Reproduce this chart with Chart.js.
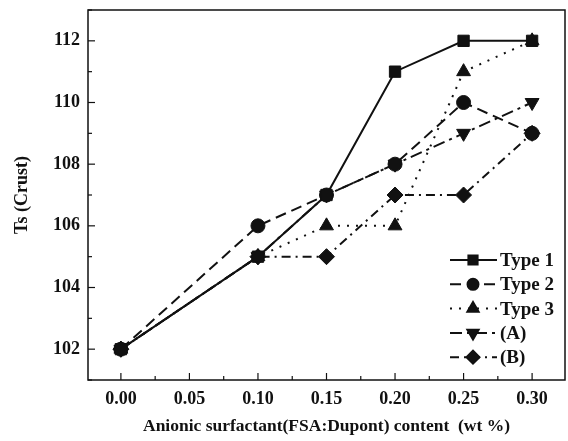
<!DOCTYPE html>
<html>
<head>
<meta charset="utf-8">
<script src="https://cdn.jsdelivr.net/npm/chart.js@4.4.0/dist/chart.umd.min.js"></script>
<style>
  html, body { margin: 0; padding: 0; background: #fff; }
  #wrap { width: 568px; height: 441px; }
</style>
</head>
<body>
<div id="wrap"><canvas id="tsChart" width="568" height="441"></canvas></div>
<script>
'use strict';

// ---- data ----
const contents = [0.00, 0.10, 0.15, 0.20, 0.25, 0.30];
const type1 = [102, 105, 107, 111, 112, 112];
const type2 = [102, 106, 107, 108, 110, 109];
const type3 = [102, 105, 106, 106, 111, 112];
const typeA = [102, 105, 107, 108, 109, 110];
const typeB = [102, 105, 105, 107, 107, 109];
const xTicks = [0.00, 0.05, 0.10, 0.15, 0.20, 0.25, 0.30];
const yTicks = [102, 104, 106, 108, 110, 112];

const FONT = '"Liberation Serif", "Times New Roman", serif';
const INK = '#111';

const series = [
  { label: 'Type 1', data: type1, style: 'rect',     radius: 8, rot: 0,   dash: [] },
  { label: 'Type 2', data: type2, style: 'circle',   radius: 7, rot: 0,   dash: [11, 6] },
  { label: 'Type 3', data: type3, style: 'triangle', radius: 8, rot: 0,   dash: [2, 7] },
  { label: '(A)',    data: typeA, style: 'triangle', radius: 8, rot: 180, dash: [12, 5, 3, 5] },
  { label: '(B)',    data: typeB, style: 'rectRot',  radius: 8, rot: 0,   dash: [9, 5, 2, 5] }
];

// inward ticks, frame and legend drawn by hand
const framePlugin = {
  id: 'frame',
  afterDraw(chart) {
    const { ctx, chartArea: a, scales } = chart;
    const xs = scales.x, ys = scales.y;
    ctx.save();
    ctx.strokeStyle = INK;
    ctx.lineWidth = 1.5;
    ctx.setLineDash([]);
    ctx.strokeRect(a.left, a.top, a.right - a.left, a.bottom - a.top);

    ctx.lineWidth = 1.2;
    for (let v = 101; v <= 113; v++) {
      const y = ys.getPixelForValue(v);
      const len = v % 2 === 0 ? 7 : 4;
      ctx.beginPath(); ctx.moveTo(a.left, y); ctx.lineTo(a.left + len, y); ctx.stroke();
    }
    xTicks.forEach(v => {
      const x = xs.getPixelForValue(v);
      ctx.beginPath(); ctx.moveTo(x, a.bottom); ctx.lineTo(x, a.bottom - 7); ctx.stroke();
    });
    for (let i = 0; i < xTicks.length - 1; i++) {
      const x = xs.getPixelForValue((xTicks[i] + xTicks[i + 1]) / 2);
      ctx.beginPath(); ctx.moveTo(x, a.bottom); ctx.lineTo(x, a.bottom - 4); ctx.stroke();
    }

    // legend
    ctx.font = 'bold 19px ' + FONT;
    ctx.textBaseline = 'middle';
    ctx.fillStyle = INK;
    chart.data.datasets.forEach((ds, i) => {
      const y = 260 + i * 24.3;
      ctx.lineWidth = 2;
      ctx.setLineDash(series[i].dash);
      ctx.beginPath(); ctx.moveTo(450, y); ctx.lineTo(497, y); ctx.stroke();
      ctx.setLineDash([]);
      Chart.helpers.drawPoint(ctx, {
        pointStyle: series[i].style, radius: series[i].radius - 1.5, rotation: series[i].rot, borderWidth: 1
      }, 473, y);
      ctx.fill();
      ctx.fillText(ds.label, 500, y + 1);
    });
    ctx.restore();
  }
};

new Chart(document.getElementById('tsChart'), {
  type: 'scatter',
  data: {
    datasets: series.map(s => ({
      label: s.label,
      data: contents.map((c, i) => ({ x: c, y: s.data[i] })),
      showLine: true,
      borderColor: INK,
      backgroundColor: INK,
      borderWidth: 2,
      borderDash: s.dash,
      pointStyle: s.style,
      pointRadius: s.radius,
      pointRotation: s.rot,
      pointBackgroundColor: INK,
      pointBorderColor: INK,
      pointBorderWidth: 1
    }))
  },
  options: {
    responsive: false,
    animation: false,
    layout: { autoPadding: false, padding: { top: 10, right: 3, left: 0, bottom: 0 } },
    plugins: { legend: { display: false }, tooltip: { enabled: false } },
    scales: {
      x: {
        type: 'linear',
        min: -0.024,
        max: 0.324,
        afterBuildTicks: s => { s.ticks = xTicks.map(v => ({ value: v })); },
        afterFit: s => { s.height = 61; s.paddingLeft = 0; s.paddingRight = 0; },
        grid: { display: false, drawTicks: false },
        border: { display: false },
        ticks: {
          color: INK,
          padding: 9,
          font: { family: FONT, size: 18, weight: 'bold' },
          callback: v => v.toFixed(2)
        },
        title: {
          display: true,
          text: 'Anionic surfactant(FSA:Dupont) content  (wt %)',
          color: INK,
          padding: { top: 4 },
          font: { family: FONT, size: 17.5, weight: 'bold' }
        }
      },
      y: {
        min: 101,
        max: 113,
        afterBuildTicks: s => { s.ticks = yTicks.map(v => ({ value: v })); },
        afterFit: s => { s.width = 88; s.paddingTop = 0; s.paddingBottom = 0; },
        grid: { display: false, drawTicks: false },
        border: { display: false },
        ticks: {
          color: INK,
          padding: 8,
          font: { family: FONT, size: 18, weight: 'bold' }
        },
        title: {
          display: true,
          text: 'Ts (Crust)',
          color: INK,
          padding: { top: 12, bottom: 4 },
          font: { family: FONT, size: 18, weight: 'bold' }
        }
      }
    }
  },
  plugins: [framePlugin]
});
</script>
</body>
</html>
